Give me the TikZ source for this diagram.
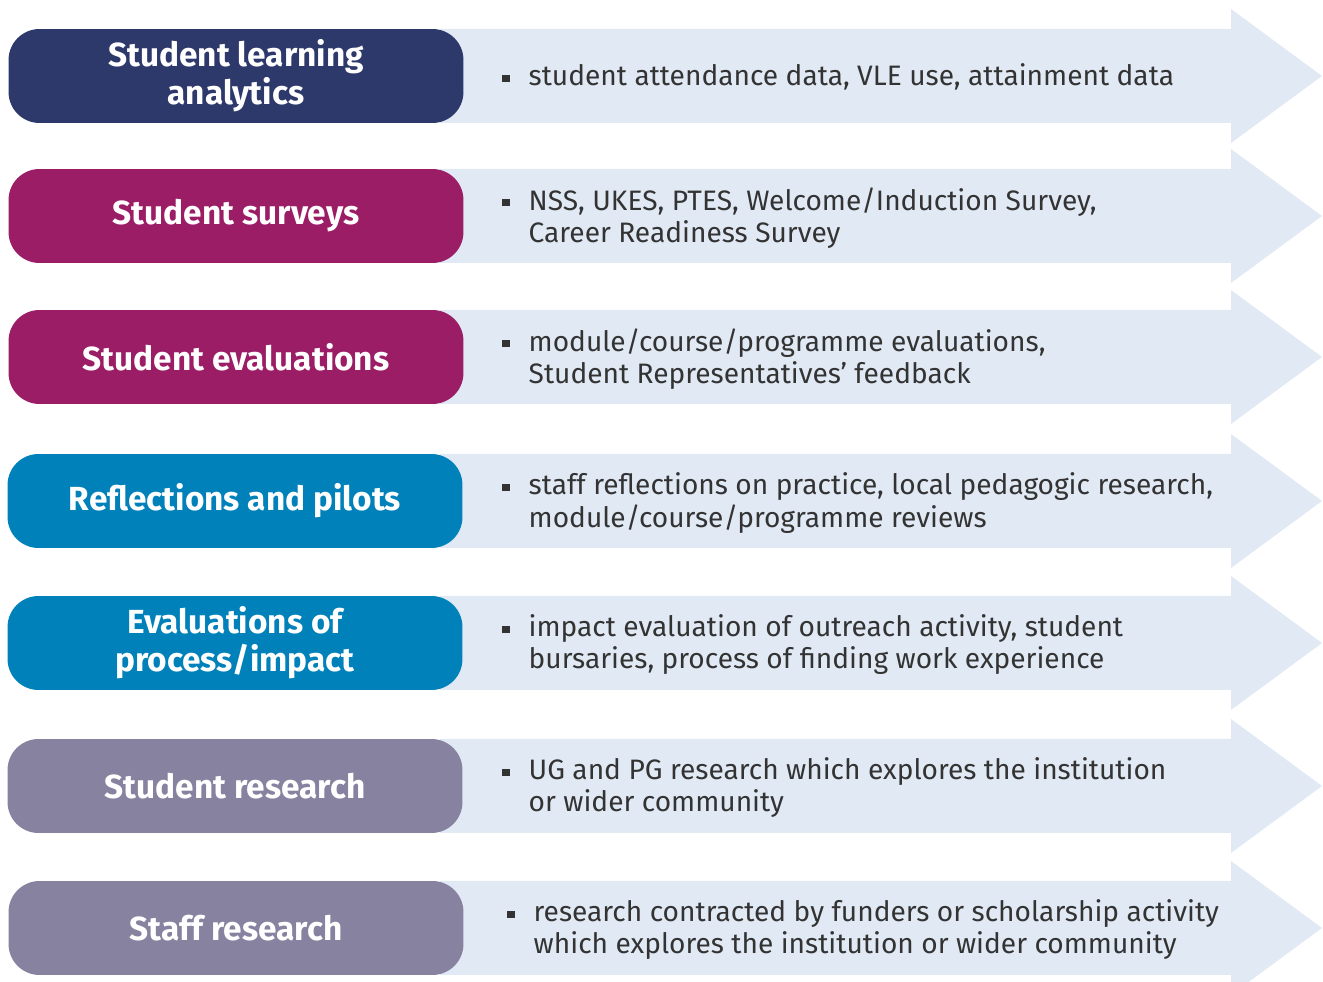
\documentclass[tikz,border=0pt]{standalone}
\usepackage{fontspec}
\setmainfont{Fira Sans}
\usetikzlibrary{positioning}

\definecolor{navyband}{HTML}{2D386B}
\definecolor{plumband}{HTML}{9B1D66}
\definecolor{seaband}{HTML}{0081BA}
\definecolor{slateband}{HTML}{86829F}
\definecolor{paleband}{HTML}{E1E9F4}
\definecolor{bodytext}{HTML}{333333}

\newcommand{\bul}{\rule[2.1pt]{4.3pt}{4.3pt}}

\begin{document}
\begin{tikzpicture}[
  x=0.02cm, y=-0.02cm,
  band/.style  = {fill=paleband},
  pill/.style  = {rounded corners=0.62cm, minimum width=9.1cm, minimum height=1.88cm,
                  text=white, align=center, font=\fontsize{19}{21.8}\selectfont\bfseries},
  desc/.style  = {anchor=west, text=bodytext, inner sep=0pt, yshift=-0.07cm,
                  font=\fontsize{16}{18.2}\selectfont},
]
\useasboundingbox (0,0) rectangle (1323,982);

%% ------------------------------------------------------------------ BANDS
\foreach \y in {76,216,357,501,643,786,928}
  { \fill[band] (440,\y-47) -- (1231,\y-47) -- (1231,\y-67) -- (1322,\y)
                -- (1231,\y+67) -- (1231,\y+47) -- (440,\y+47) -- cycle; }

%% ------------------------------------------------------------------ LABELS
\node[pill, fill=navyband]  (lbl1) at (236,76)  {Student learning\\analytics};
\node[pill, fill=plumband]  (lbl2) at (236,216) {Student surveys};
\node[pill, fill=plumband]  (lbl3) at (236,357) {Student evaluations};
\node[pill, fill=seaband]   (lbl4) at (235,501) {Reflections and pilots};
\node[pill, fill=seaband]   (lbl5) at (235,643) {Evaluations of\\process/impact};
\node[pill, fill=slateband] (lbl6) at (235,786) {Student research};
\node[pill, fill=slateband] (lbl7) at (236,928) {Staff research};

%% ------------------------------------------------------------------ DETAILS
\node[desc, right=0.76cm of lbl1] (dsc1)
  {\begin{tabular}{@{}l@{\hspace{0.38cm}}l@{}}
   \bul & student attendance data, VLE use, attainment data\end{tabular}};
\node[desc, right=0.76cm of lbl2] (dsc2)
  {\begin{tabular}{@{}l@{\hspace{0.38cm}}l@{}}
   \bul & NSS, UKES, PTES, Welcome/Induction Survey,\\
        & Career Readiness Survey\end{tabular}};
\node[desc, right=0.76cm of lbl3] (dsc3)
  {\begin{tabular}{@{}l@{\hspace{0.38cm}}l@{}}
   \bul & module/course/programme evaluations,\\
        & Student Representatives’ feedback\end{tabular}};
\node[desc, right=0.78cm of lbl4] (dsc4)
  {\begin{tabular}{@{}l@{\hspace{0.38cm}}l@{}}
   \bul & staff reflections on practice, local pedagogic research,\\
        & module/course/programme reviews\end{tabular}};
\node[desc, right=0.78cm of lbl5] (dsc5)
  {\begin{tabular}{@{}l@{\hspace{0.38cm}}l@{}}
   \bul & impact evaluation of outreach activity, student\\
        & bursaries, process of finding work experience\end{tabular}};
\node[desc, right=0.78cm of lbl6] (dsc6)
  {\begin{tabular}{@{}l@{\hspace{0.38cm}}l@{}}
   \bul & UG and PG research which explores the institution\\
        & or wider community\end{tabular}};
\node[desc, right=0.86cm of lbl7] (dsc7)
  {\begin{tabular}{@{}l@{\hspace{0.38cm}}l@{}}
   \bul & research contracted by funders or scholarship activity\\
        & which explores the institution or wider community\end{tabular}};

\end{tikzpicture}
\end{document}
